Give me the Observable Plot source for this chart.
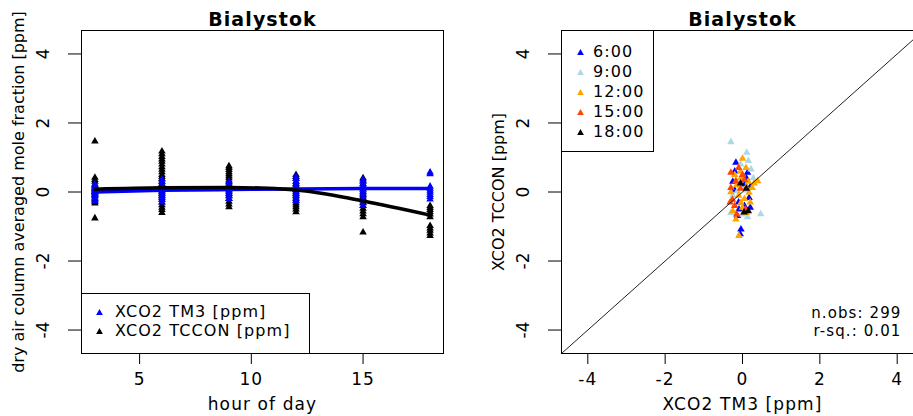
<!DOCTYPE html>
<html><head><meta charset="utf-8">
<script src="https://cdn.jsdelivr.net/npm/d3@7"></script>
<script src="https://cdn.jsdelivr.net/npm/@observablehq/plot@0.6"></script>
<style>
html,body{margin:0;padding:0;background:#fff;overflow:hidden;}
#wrap{position:relative;width:913px;height:416px;overflow:hidden;font-family:"DejaVu Sans",sans-serif;background:#fff;}
.panel{position:absolute;top:0;}
.legend{position:absolute;border:1px solid #000;background:#fff;box-sizing:border-box;font-size:16px;letter-spacing:1.1px;color:#000;}
.legend .row{position:absolute;white-space:nowrap;line-height:16px;height:16px;}
.legend svg{position:absolute;}
</style></head><body><div id="wrap"></div>
<script>
// ---------- data ----------
const title = "Bialystok";
const hours = [3, 6, 9, 12, 15, 18];
const tcconByHour = [
  [1.47, 0.42, 0.35, 0.3, 0.22, 0.18, 0.12, 0.1, 0.05, 0.02, 0.0, -0.04, -0.08, -0.12, -0.18, -0.22, -0.28, -0.33, -0.76],
  [1.18, 1.1, 1.02, 0.95, 0.88, 0.8, 0.72, 0.65, 0.58, 0.5, 0.44, 0.38, 0.3, 0.24, 0.18, 0.12, 0.07, 0.02, -0.04, -0.1, -0.16, -0.22, -0.3, -0.38, -0.45, -0.52, -0.6],
  [0.75, 0.7, 0.64, 0.58, 0.52, 0.46, 0.4, 0.34, 0.28, 0.22, 0.16, 0.1, 0.05, 0.0, -0.06, -0.12, -0.2, -0.28, -0.36, -0.44],
  [0.5, 0.44, 0.38, 0.3, 0.24, 0.18, 0.12, 0.06, 0.0, -0.06, -0.12, -0.18, -0.25, -0.32, -0.38, -0.44, -0.5, -0.58],
  [0.4, 0.32, 0.24, 0.16, 0.08, 0.0, -0.08, -0.16, -0.24, -0.32, -0.4, -0.48, -0.56, -0.64, -0.73, -1.17],
  [-0.4, -0.46, -0.52, -0.58, -0.65, -0.73, -0.98, -1.05, -1.12, -1.2, -1.27]
];
const tm3ByHour = [
  [0.22, 0.15, 0.1, 0.06, 0.03, 0.0, -0.03, -0.08, -0.12, -0.18, -0.26],
  [0.37, 0.3, 0.22, 0.15, 0.1, 0.05, 0.0, -0.05, -0.1, -0.16, -0.22, -0.3],
  [0.3, 0.22, 0.15, 0.08, 0.02, -0.05, -0.12, -0.2],
  [0.45, 0.38, 0.3, 0.22, 0.15, 0.08, 0.02, -0.05, -0.12, -0.2, -0.26],
  [0.37, 0.3, 0.22, 0.15, 0.08, 0.02, -0.05, -0.12, -0.2, -0.3, -0.4],
  [0.57, 0.52, 0.16, 0.1, 0.04, -0.02, -0.08, -0.14, -0.21]
];
const tcconFit = [0.08, 0.12, 0.13, 0.06, -0.26, -0.67];
const tm3Fit = [0.0, 0.05, 0.07, 0.09, 0.1, 0.1];
const seriesNames = ["XCO2 TM3 [ppm]", "XCO2 TCCON [ppm]"];
const seriesColors = ["#0000FF", "#000000"];

const scatterLabels = ["6:00", "9:00", "12:00", "15:00", "18:00"];
const scatterColors = ["#0000FF", "#ADD8E6", "#FFA500", "#FF4500", "#000000"];
const scatterTM3 = [
  -0.17, 0.13, 0.06, 0.17, -0.09, -0.13, -0.04, -0.06, -0.2, 0.1, -0.25, 0.2, -0.1, 0.05, 0.2, -0.2,
  -0.30, 0.11, 0.22, -0.13, -0.21, 0.13, 0.47, -0.05, 0.15, -0.25, 0.0, 0.28, -0.3, 0.1,
  0.0, 0.09, -0.04, 0.39, 0.25, 0.17, -0.04, 0.0, -0.17, -0.09, -0.2, 0.15, -0.15, 0.3, -0.1, 0.2, -0.25, 0.1, -0.05, 0.1, -0.3, 0.05,
  -0.30, -0.17, -0.30, -0.26, -0.1, 0.0, -0.2, -0.05, 0.08, -0.32, -0.15, 0.05,
  0.04, 0.15, -0.05, 0.1
];
const scatterTCCON = [
  0.85, 0.56, 0.22, -0.17, -0.5, -0.69, -1.08, -1.22, 0.05, 0.4, 0.3, 0.15, -0.3, -0.4, -0.45, 0.6,
  1.45, 1.14, 0.66, 0.03, -0.40, -0.73, -0.64, 0.8, 0.9, -0.1, -0.65, 0.4, -0.6, 0.05,
  0.97, 0.70, 0.41, 0.32, 0.12, -0.02, -0.31, -0.45, -0.79, -1.27, 0.5, 0.3, 0.2, 0.25, -0.1, -0.3, -0.55, -0.6, 0.6, 0.15, 0.0, -0.2,
  0.56, 0.32, 0.12, -0.22, 0.7, 0.5, -0.4, 0.1, -0.5, -0.3, -0.65, 0.35,
  -0.59, -0.55, 0.25, 0.1
];
const scatterHourIdx = [
  0,0,0,0,0,0,0,0,0,0,0,0,0,0,0,0,
  1,1,1,1,1,1,1,1,1,1,1,1,1,1,
  2,2,2,2,2,2,2,2,2,2,2,2,2,2,2,2,2,2,2,2,2,2,
  3,3,3,3,3,3,3,3,3,3,3,3,
  4,4,4,4
];
const nObs = 299;
const rSq = 0.01;

const xTicksLeft = [5, 10, 15];
const yTicks = [-4, -2, 0, 2, 4];
const xTicksRight = [-4, -2, 0, 2, 4];
const diag = [-6, 6];

// ---------- build tables ----------
const tcconPts = hours.flatMap((h, i) => tcconByHour[i].map(v => ({hour: h, value: v})));
const tm3Pts = hours.flatMap((h, i) => tm3ByHour[i].map(v => ({hour: h, value: v})));
const tcconLine = hours.map((h, i) => ({hour: h, value: tcconFit[i]}));
const tm3Line = hours.map((h, i) => ({hour: h, value: tm3Fit[i]}));
const scatter = scatterTM3.map((x, i) => ({x, y: scatterTCCON[i], c: scatterColors[scatterHourIdx[i]]}));

const FONT = "DejaVu Sans";
const wrap = document.getElementById("wrap");

function commonMarks(xTicks, ylab, xlab) {
  return [
    Plot.axisX({ticks: xTicks, tickSize: 11, tickPadding: 8, tickFormat: d => String(d), label: null}),
    Plot.axisY({ticks: yTicks, tickSize: 13, tickFormat: () => "", label: null}),
    Plot.text(yTicks, {frameAnchor: "left", y: d => d, text: d => String(d), rotate: -90, dx: -38, textAnchor: "middle", lineAnchor: "middle", fontSize: 17}),
    Plot.text([ylab], {frameAnchor: "left", dx: -63, rotate: -90, textAnchor: "middle", lineAnchor: "middle", fontSize: 16}),
    Plot.text([xlab], {frameAnchor: "bottom", dy: 51, textAnchor: "middle", lineAnchor: "middle", fontSize: 17}),
    Plot.text([title], {frameAnchor: "top", dy: -11, textAnchor: "middle", lineAnchor: "middle", fontSize: 19, fontWeight: "bold"})
  ];
}

const plotStyle = {fontFamily: FONT, fontSize: "17px", color: "#000", background: "transparent", overflow: "visible"};

const left = Plot.plot({
  width: 460, height: 416,
  marginLeft: 81, marginRight: 17, marginTop: 30, marginBottom: 63,
  x: {domain: [2.4, 18.6]},
  y: {domain: [-4.68, 4.68]},
  style: plotStyle,
  marks: [
    Plot.dot(tcconPts, {x: "hour", y: "value", symbol: "triangle", r: 2.8, fill: seriesColors[1]}),
    Plot.dot(tm3Pts, {x: "hour", y: "value", symbol: "triangle", r: 2.8, fill: seriesColors[0]}),
    Plot.line(tm3Line, {x: "hour", y: "value", stroke: seriesColors[0], strokeWidth: 3.5, curve: "monotone-x"}),
    Plot.line(tcconLine, {x: "hour", y: "value", stroke: seriesColors[1], strokeWidth: 3.5, curve: "monotone-x"}),
    ...commonMarks(xTicksLeft, "dry air column averaged mole fraction [ppm]", "hour of day"),
    Plot.frame({stroke: "#000", strokeWidth: 1})
  ]
});

const right = Plot.plot({
  width: 470, height: 416,
  marginLeft: 91, marginRight: 17, marginTop: 30, marginBottom: 63,
  x: {domain: [-4.68, 4.68]},
  y: {domain: [-4.68, 4.68]},
  style: plotStyle,
  marks: [
    Plot.dot(scatter, {x: "x", y: "y", symbol: "triangle", r: 2.8, fill: "c"}),
    Plot.line(diag, {x: d => d, y: d => d, stroke: "#222", strokeWidth: 1, clip: true}),
    Plot.text([`n.obs: ${nObs}`], {frameAnchor: "bottom-right", dx: -22, dy: -40, textAnchor: "end", lineAnchor: "middle", fontSize: 15}),
    Plot.text([`r-sq.: ${rSq.toFixed(2)}`], {frameAnchor: "bottom-right", dx: -22, dy: -22, textAnchor: "end", lineAnchor: "middle", fontSize: 15}),
    ...commonMarks(xTicksRight, "XCO2 TCCON [ppm]", "XCO2 TM3 [ppm]"),
    Plot.frame({stroke: "#000", strokeWidth: 1})
  ]
});

// mimic the horizontally stretched glyphs of the original: letter-spacing on horizontal texts
[left, right].forEach(svg => {
  d3.select(svg).selectAll("text").each(function() {
    const t = this.getAttribute("transform") || "";
    if (!t.includes("rotate")) this.style.letterSpacing = "1.1px";
  });
});

function panel(svg, x, w) {
  const d = document.createElement("div");
  d.className = "panel";
  d.style.left = x + "px";
  d.style.width = w + "px";
  d.appendChild(svg);
  wrap.appendChild(d);
}
panel(left, 0, 460);
panel(right, 470, 470);

function tri(color) {
  return `<svg width="9" height="9" viewBox="-4.5 -4.5 9 9"><path d="M0,-3.6L3.4,2.6L-3.4,2.6Z" fill="${color}"/></svg>`;
}
function legend(box, names, colors, rowStart, rowStep, symX, textX) {
  const d = document.createElement("div");
  d.className = "legend";
  Object.assign(d.style, {left: box[0] + "px", top: box[1] + "px", width: box[2] + "px", height: box[3] + "px"});
  names.forEach((n, i) => {
    const cy = rowStart + i * rowStep;
    const s = document.createElement("div");
    s.innerHTML = tri(colors[i]);
    s.firstChild.style.left = (symX - 4.5) + "px";
    s.firstChild.style.top = (cy - 4.5) + "px";
    d.appendChild(s.firstChild);
    const r = document.createElement("div");
    r.className = "row";
    r.style.left = textX + "px";
    r.style.top = (cy - 8) + "px";
    r.textContent = n;
    d.appendChild(r);
  });
  wrap.appendChild(d);
}
legend([81, 293, 229, 61], seriesNames, seriesColors, 18, 19, 17, 33);
legend([561, 30, 93, 122], scatterLabels, scatterColors, 21, 20, 18, 31);
</script></body></html>
